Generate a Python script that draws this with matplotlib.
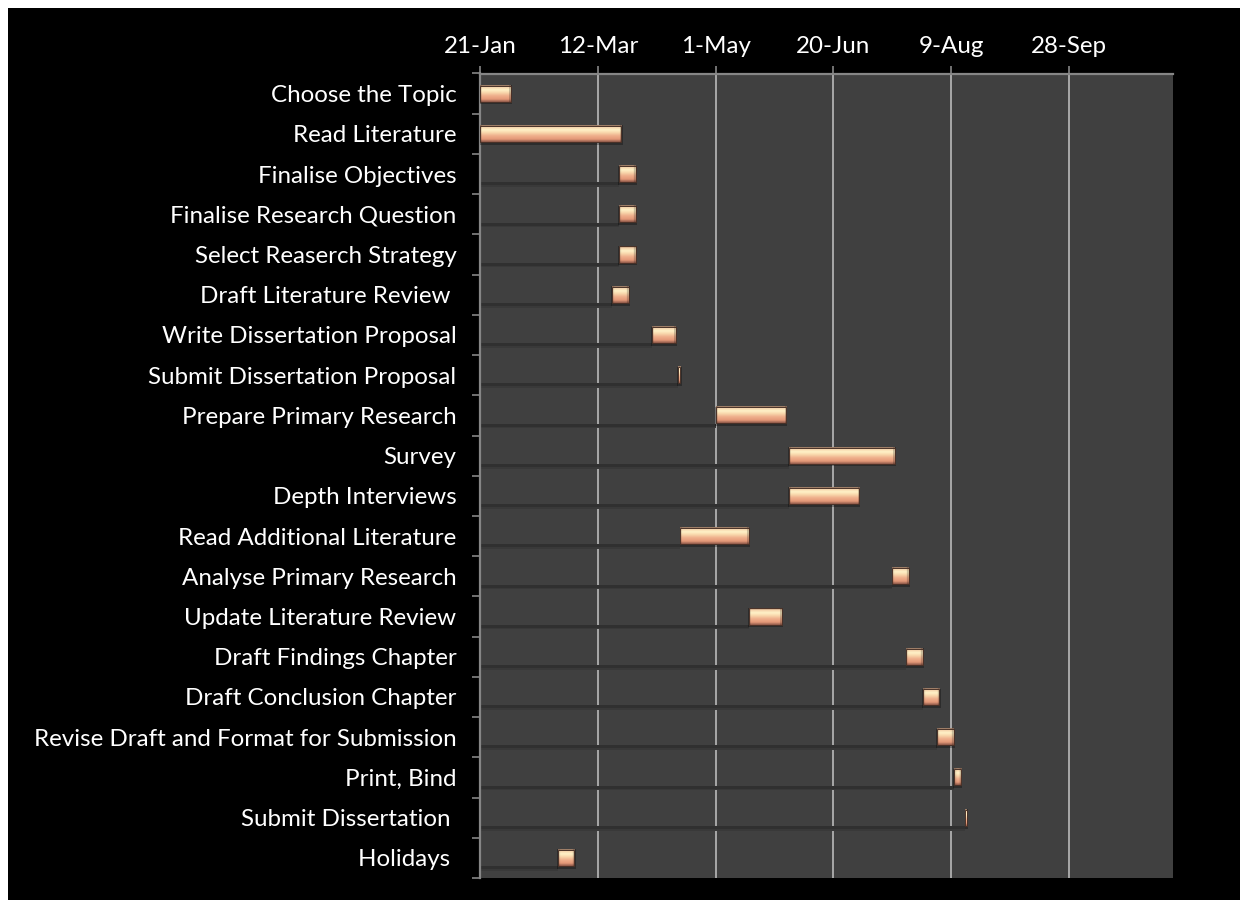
import numpy as np
import matplotlib
matplotlib.use('Agg')
import matplotlib.pyplot as plt
from matplotlib.patches import Rectangle
from matplotlib.colors import to_rgb

# tasks, start (days after 21-Jan) and duration in days
tasks = ['Choose the Topic', 'Read Literature', 'Finalise Objectives',
         'Finalise Research Question', 'Select Reaserch Strategy',
         'Draft Literature Review ', 'Write Dissertation Proposal',
         'Submit Dissertation Proposal', 'Prepare Primary Research', 'Survey',
         'Depth Interviews', 'Read Additional Literature',
         'Analyse Primary Research', 'Update Literature Review',
         'Draft Findings Chapter', 'Draft Conclusion Chapter',
         'Revise Draft and Format for Submission', 'Print, Bind',
         'Submit Dissertation ', 'Holidays ']
start = [0, 0, 59, 59, 59, 56, 73, 84, 100, 131, 131, 85, 175, 114, 181, 188, 194, 201, 206, 33]
duration = [13, 60, 7, 7, 7, 7, 10, 1, 30, 45, 30, 29, 7, 14, 7, 7, 7, 3, 0.6, 7]

tick_days = [0, 50, 100, 150, 200, 250]
tick_labels = ['21-Jan', '12-Mar', '1-May', '20-Jun', '9-Aug', '28-Sep']
x_max = 294

plt.rcParams['font.family'] = ['Lato', 'DejaVu Sans']

fig = plt.figure(figsize=(12.46, 9), dpi=100, facecolor='white')
fig.patches.append(Rectangle((8 / 1246, 0), 1232 / 1246, 892 / 900, transform=fig.transFigure,
                             facecolor='black', edgecolor='none', zorder=-10))
ax = fig.add_axes([480.2 / 1246, 1 - 878 / 900, (1172.5 - 480.2) / 1246, (878 - 73.5) / 900])
ax.set_facecolor('#404040')

y = np.arange(len(tasks))
h = 0.4
px_per_day = (1172.5 - 480.2) / x_max

# vertical colour profile of the bevelled bars (top -> bottom)
stops = [(0.0, '#8a6a58'), (0.10, '#f4d0a8'), (0.27, '#fff2c8'), (0.42, '#fadcb0'),
         (0.62, '#f0b28e'), (0.84, '#e49878'), (1.0, '#905a4a')]
ny = 40
t = np.linspace(0, 1, ny)
prof = np.zeros((ny, 3))
for k in range(3):
    prof[:, k] = np.interp(t, [s[0] for s in stops], [to_rgb(s[1])[k] for s in stops])

# shadow of the invisible "start" series
ax.barh(y + h / 2 + 0.045, start, height=0.08, color='#303030', zorder=2)
ax.barh(y + h / 2 + 0.1, start, height=0.04, color='#393939', zorder=2)

# soft halo behind visible bars
ax.barh(y + 0.03, np.array(duration) + 0.8, left=np.array(start) - 0.3, height=h + 0.08,
        color='black', alpha=0.3, zorder=3, linewidth=0)

for i in range(len(tasks)):
    nx = max(2, int(round(duration[i] * px_per_day)))
    img = np.repeat(prof[:, None, :], nx, axis=1)
    if nx > 4:
        img[:, :2] *= 0.88
        img[:, -2:] *= 0.8
    ax.imshow(img, extent=[start[i], start[i] + duration[i], y[i] + h / 2, y[i] - h / 2],
              aspect='auto', interpolation='bilinear', zorder=4)

ax.barh(y, duration, left=start, height=h, facecolor='none', edgecolor='#4a3228',
        linewidth=0.7, zorder=5)

ax.set_xlim(0, x_max)
ax.set_ylim(len(tasks) - 0.5, -0.5)

ax.xaxis.tick_top()
ax.set_xticks(tick_days)
ax.set_xticklabels(tick_labels)
ax.grid(axis='x', color='#a8a8a8', linewidth=1.4, zorder=1)
ax.set_axisbelow(True)

ax.set_yticks(y)
ax.set_yticklabels(tasks)
ax.set_yticks(np.arange(len(tasks) + 1) - 0.5, minor=True)
ax.tick_params(axis='y', which='major', length=0, pad=17, labelsize=17.4, labelcolor='white')
ax.tick_params(axis='y', which='minor', length=6, width=1.2, color='#868686', direction='out')
ax.tick_params(axis='x', which='major', length=6, width=1.2, color='#868686', pad=6,
               labelsize=17.4, labelcolor='white', direction='out')

for s in ['right', 'bottom']:
    ax.spines[s].set_visible(False)
for s in ['top', 'left']:
    ax.spines[s].set_color('#868686')
    ax.spines[s].set_linewidth(1.6)

fig.savefig('out.png', dpi=100, facecolor=fig.get_facecolor())
